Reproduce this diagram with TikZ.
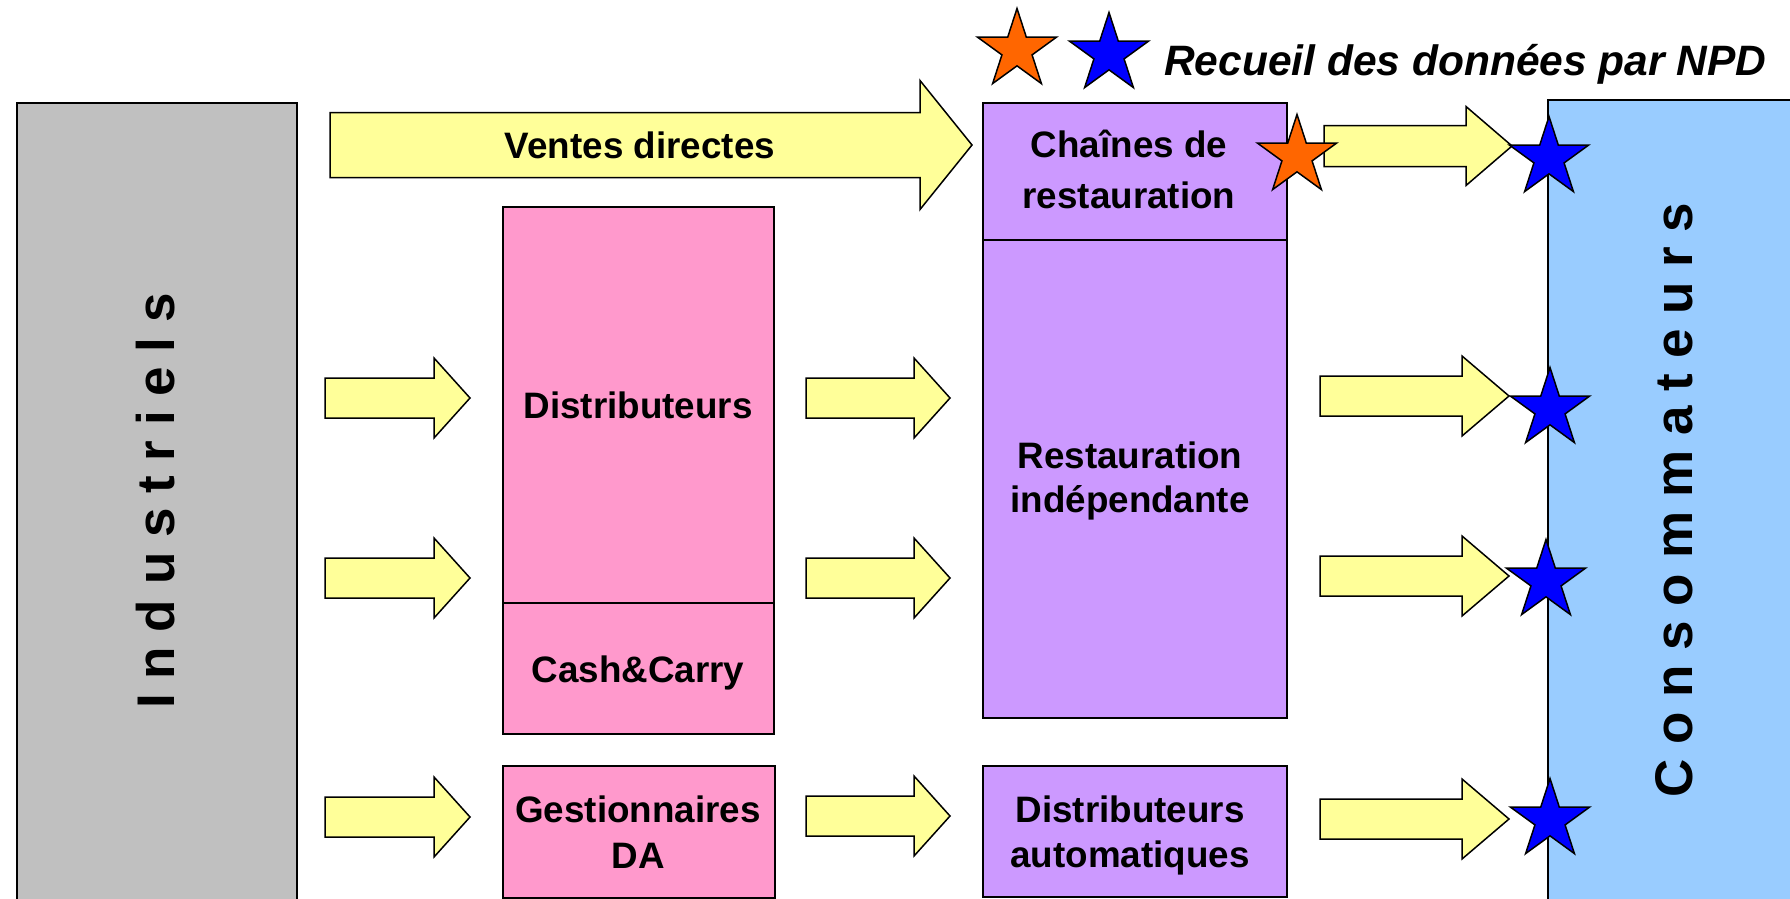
\documentclass[tikz,border=0pt]{standalone}
\usepackage{fontspec}
\setmainfont{Liberation Sans}
\usetikzlibrary{shapes.geometric}

\definecolor{indgray}{HTML}{C0C0C0}
\definecolor{distpink}{HTML}{FF99CC}
\definecolor{restpurple}{HTML}{CC99FF}
\definecolor{consblue}{HTML}{99CCFF}
\definecolor{flowyellow}{HTML}{FFFF99}
\definecolor{npdorange}{HTML}{FF6600}
\definecolor{npdblue}{HTML}{0000FF}

\newcommand\labelfont{\bfseries\fontsize{36.8}{45}\selectfont}
\newcommand\sidefont{\bfseries\fontsize{53}{60}\selectfont}

\tikzset{
  box/.style={draw=black, line width=1.5pt, inner sep=0pt, anchor=north west},
  lbl/.style={anchor=base, inner sep=0pt, font=\labelfont},
  flow/.style={draw=black, fill=flowyellow, line width=1.5pt, line join=miter},
  npdstar/.style={star, star points=5, star point ratio=2.618, minimum size=83pt,
    inner sep=0pt, draw=black, line width=1.5pt},
}

% block arrow: name, tail x, head base x, tip x, centre y, half body, half head
\newcommand\flowarrow[7]{%
  \coordinate (#1) at (#2,#5);
  \draw[flow] (#2,#5-#6) -- (#3,#5-#6) -- (#3,#5-#7) -- (#4,#5)
    -- (#3,#5+#7) -- (#3,#5+#6) -- (#2,#5+#6) -- cycle;}

\begin{document}
\begin{tikzpicture}[x=1pt,y=-1pt]
\useasboundingbox (0,0) rectangle (1790,899);

% side columns
\node[box, fill=indgray, minimum width=280pt, minimum height=820pt] (ind) at (16,102) {};
\node[box, fill=consblue, minimum width=260pt, minimum height=820pt] (cons) at (1547,99) {};
\node[rotate=90, font=\sidefont] (indlabel) at (156,501) {I n d u s t r i e l s};
\node[rotate=90, font=\sidefont] (conslabel) at (1674,500) {C o n s o m m a t e u r s};

% intermediaries
\node[box, fill=distpink, minimum width=271pt, minimum height=396pt] (dist) at (502,206) {};
\node[box, fill=distpink, minimum width=271pt, minimum height=131pt] (cc) at (502,602) {};
\node[box, fill=distpink, minimum width=272pt, minimum height=132pt] (gda) at (502,765) {};
\node[lbl] (distl) at (638,418) {Distributeurs};
\node[lbl] (ccl) at (638,682) {Cash\&Carry};
\node[lbl] (gdal1) at (638,822) {Gestionnaires};
\node[lbl] (gdal2) at (638,868) {DA};

% catering outlets
\node[box, fill=restpurple, minimum width=304pt, minimum height=137pt] (chain) at (982,102) {};
\node[box, fill=restpurple, minimum width=304pt, minimum height=478pt] (indep) at (982,239) {};
\node[box, fill=restpurple, minimum width=304pt, minimum height=131pt] (auto) at (982,765) {};
\node[lbl] (chainl1) at (1129,157) {Chaînes de};
\node[lbl] (chainl2) at (1129,208) {restauration};
\node[lbl] (indepl1) at (1130,468) {Restauration};
\node[lbl] (indepl2) at (1130,512) {indépendante};
\node[lbl] (autol1) at (1130,822) {Distributeurs};
\node[lbl] (autol2) at (1130,867) {automatiques};

% flows
\flowarrow{fv}{330}{920}{972}{145}{32.5}{64.5}
\node[lbl] (vd) at (640,158) {Ventes directes};

\flowarrow{fa1}{325}{434}{470}{398}{20}{40}
\flowarrow{fa2}{325}{434}{470}{578}{20}{40}
\flowarrow{fa3}{325}{434}{470}{817}{20}{40}

\flowarrow{fb1}{806}{914}{950}{398}{20}{40}
\flowarrow{fb2}{806}{914}{950}{578}{20}{40}
\flowarrow{fb3}{806}{914}{950}{816}{20}{40}

\flowarrow{fc0}{1324}{1466}{1512}{146}{20.5}{39.5}
\flowarrow{fc1}{1320}{1462}{1509}{396}{20}{40}
\flowarrow{fc2}{1320}{1462}{1509}{576}{20}{40}
\flowarrow{fc3}{1320}{1462}{1509}{819}{20}{40}

% data collection points
\node[npdstar, fill=npdorange] (lego) at (1017,50) {};
\node[npdstar, fill=npdblue] (legb) at (1109,54) {};
\node[anchor=base west, inner sep=0pt, font=\bfseries\itshape\fontsize{42.5}{50}\selectfont] (legend) at (1164,75) {Recueil des données par NPD};

\node[npdstar, fill=npdorange] (so) at (1297,156) {};
\node[npdstar, fill=npdblue] (sb0) at (1549,158) {};
\node[npdstar, fill=npdblue] (sb1) at (1550,409) {};
\node[npdstar, fill=npdblue] (sb2) at (1546,581) {};
\node[npdstar, fill=npdblue] (sb3) at (1550,820) {};
\end{tikzpicture}
\end{document}
